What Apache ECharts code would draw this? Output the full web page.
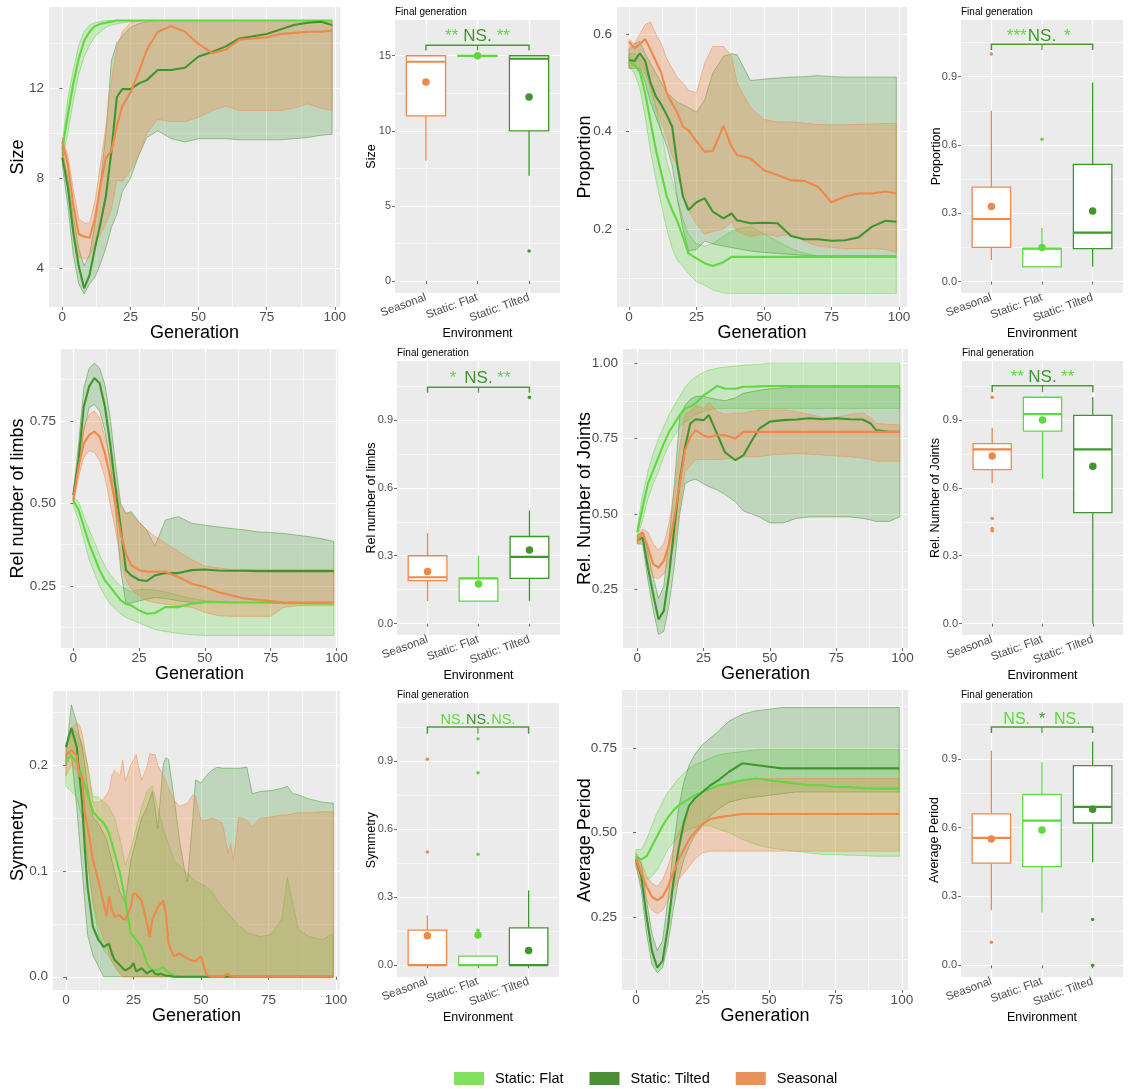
<!DOCTYPE html>
<html>
<head>
<meta charset="utf-8">
<script src="https://cdn.jsdelivr.net/npm/echarts@6/dist/echarts.min.js"></script>
<style>
html, body { margin: 0; padding: 0; background: #fff; }
#main { width: 1131px; height: 1089px; }
</style>
</head>
<body>
<div id="main"></div>
<script>
// ---- data ----
var envNames = ['Static: Flat', 'Static: Tilted', 'Seasonal'];
var boxCats = ['Seasonal', 'Static: Flat', 'Static: Tilted'];
var genTicks = [0, 25, 50, 75, 100];
var genMinor = [12.5, 37.5, 62.5, 87.5];

var genA = [0,2,4,6,8,10,12,14,16,18,20,22,25,28,31,35,40,45,50,55,60,65,70,75,80,85,90,95,99];

// Size
var sizeFlatMed = [9.3,10.8,12.2,13.3,14.1,14.5,14.75,14.85,14.9,14.95,15,15,15,15,15,15,15,15,15,15,15,15,15,15,15,15,15,15,15];
var sizeFlatLo = [8.9,10.0,11.4,12.6,13.4,13.9,14.3,14.5,14.7,14.8,14.85,14.9,14.95,14.98,15,15,15,15,15,15,15,15,15,15,15,15,15,15,15];
var sizeFlatHi = [9.6,11.5,12.8,13.9,14.5,14.8,14.9,14.95,15,15,15,15,15,15,15,15,15,15,15,15,15,15,15,15,15,15,15,15,15];
var sizeTiltMed = [8.9,7.6,5.6,4.1,3.1,3.7,4.9,6.0,7.2,9.2,11.6,11.95,11.95,12.2,12.35,12.8,12.8,12.9,13.4,13.6,13.85,14.2,14.3,14.4,14.6,14.8,14.9,14.95,14.8];
var sizeTiltLo = [8.5,6.8,4.6,3.3,2.85,3.3,3.6,4.2,4.9,5.8,6.4,7.4,8.0,9.0,9.8,10.1,9.75,9.6,9.75,9.75,9.75,9.7,9.7,9.7,9.7,9.75,9.8,9.9,9.95];
var sizeTiltHi = [9.3,8.0,6.3,4.9,4.1,4.6,6.0,7.8,10.0,13.2,14.0,14.3,14.7,14.85,14.95,15,15,15,15,15,15,15,15,15,15,15,15,15,15];
var sizeSeasMed = [9.6,8.6,6.8,5.5,5.4,5.35,6.2,7.7,8.9,9.2,10.3,11.2,11.8,12.7,13.7,14.5,14.75,14.5,13.95,13.55,13.7,14.15,14.2,14.25,14.4,14.45,14.5,14.5,14.55];
var sizeSeasLo = [9.0,7.9,5.6,4.5,4.4,4.5,5.1,5.5,6.0,6.6,7.9,7.85,8.35,9.0,10.0,10.6,10.5,10.5,10.7,11.0,11.2,11.0,11.0,11.0,11.0,11.1,11.3,11.1,11.0];
var sizeSeasHi = [9.8,9.0,7.5,6.2,6.0,6.0,7.0,8.6,10.3,12.3,13.8,14.5,14.9,15,15,15,15,15,15,15,15,15,15,15,15,15,15,15,15];

// Proportion
var propGen = [0,2,4,6,8,10,12,14,16,18,20,22,25,28,31,35,38,40,45,50,55,60,65,70,75,80,85,90,95,99];
var propFlatMed = [0.544,0.537,0.523,0.479,0.42,0.362,0.314,0.267,0.239,0.215,0.184,0.15,0.14,0.13,0.124,0.132,0.143,0.143,0.143,0.143,0.143,0.143,0.143,0.143,0.143,0.143,0.143,0.143,0.143,0.143];
var propFlatLo = [0.535,0.52,0.49,0.43,0.36,0.3,0.25,0.2,0.16,0.135,0.123,0.109,0.092,0.085,0.075,0.069,0.068,0.068,0.068,0.068,0.068,0.068,0.068,0.068,0.068,0.068,0.068,0.068,0.068,0.068];
var propFlatHi = [0.56,0.56,0.55,0.53,0.5,0.45,0.4,0.34,0.3,0.26,0.22,0.19,0.17,0.165,0.17,0.185,0.195,0.2,0.205,0.19,0.175,0.16,0.15,0.145,0.145,0.145,0.145,0.145,0.145,0.145];
var propTiltMed = [0.547,0.545,0.561,0.545,0.5,0.472,0.455,0.434,0.41,0.328,0.267,0.239,0.255,0.263,0.236,0.222,0.232,0.218,0.212,0.213,0.212,0.186,0.179,0.179,0.176,0.177,0.183,0.205,0.217,0.215];
var propTiltLo = [0.53,0.53,0.53,0.5,0.46,0.43,0.4,0.37,0.33,0.26,0.2,0.155,0.158,0.175,0.17,0.165,0.162,0.16,0.155,0.152,0.15,0.148,0.146,0.145,0.145,0.145,0.145,0.145,0.145,0.145];
var propTiltHi = [0.57,0.58,0.585,0.56,0.54,0.52,0.5,0.48,0.47,0.46,0.455,0.45,0.44,0.465,0.52,0.555,0.56,0.558,0.505,0.508,0.51,0.512,0.513,0.515,0.513,0.512,0.512,0.512,0.512,0.512];
var propSeasMed = [0.585,0.571,0.58,0.59,0.568,0.544,0.52,0.479,0.458,0.438,0.41,0.403,0.38,0.359,0.36,0.412,0.369,0.352,0.345,0.321,0.311,0.3,0.299,0.287,0.255,0.267,0.273,0.273,0.277,0.273];
var propSeasLo = [0.53,0.535,0.53,0.52,0.49,0.45,0.42,0.39,0.35,0.33,0.29,0.24,0.21,0.19,0.195,0.2,0.215,0.195,0.185,0.19,0.185,0.19,0.175,0.165,0.162,0.16,0.16,0.16,0.158,0.152];
var propSeasHi = [0.59,0.58,0.6,0.62,0.625,0.6,0.58,0.55,0.53,0.51,0.5,0.485,0.48,0.54,0.575,0.575,0.555,0.5,0.45,0.425,0.42,0.42,0.418,0.415,0.414,0.414,0.415,0.416,0.417,0.417];

// Rel number of limbs
var limbFlatMed = [0.51,0.48,0.43,0.379,0.338,0.298,0.267,0.247,0.227,0.207,0.196,0.191,0.176,0.166,0.168,0.186,0.186,0.196,0.201,0.201,0.2,0.2,0.2,0.199,0.198,0.198,0.197,0.197,0.196];
var limbFlatLo = [0.49,0.45,0.39,0.33,0.29,0.25,0.22,0.195,0.18,0.165,0.155,0.148,0.138,0.128,0.118,0.112,0.106,0.102,0.1,0.1,0.1,0.1,0.1,0.1,0.1,0.1,0.1,0.1,0.1];
var limbFlatHi = [0.52,0.505,0.46,0.42,0.385,0.345,0.31,0.285,0.265,0.25,0.24,0.232,0.24,0.24,0.238,0.232,0.222,0.212,0.205,0.203,0.2,0.2,0.2,0.2,0.2,0.2,0.2,0.2,0.2];
var limbTiltMed = [0.525,0.632,0.794,0.854,0.88,0.864,0.794,0.682,0.55,0.429,0.298,0.282,0.268,0.265,0.282,0.289,0.289,0.298,0.3,0.297,0.296,0.296,0.295,0.295,0.295,0.295,0.295,0.295,0.295];
var limbTiltLo = [0.52,0.6,0.72,0.79,0.8,0.78,0.72,0.62,0.48,0.3,0.196,0.198,0.205,0.21,0.215,0.212,0.205,0.2,0.2,0.2,0.2,0.2,0.2,0.2,0.2,0.2,0.2,0.2,0.2];
var limbTiltHi = [0.535,0.68,0.85,0.91,0.925,0.91,0.86,0.76,0.62,0.5,0.47,0.475,0.444,0.419,0.37,0.45,0.46,0.44,0.434,0.429,0.424,0.42,0.414,0.412,0.409,0.404,0.399,0.392,0.385];
var limbSeasMed = [0.51,0.611,0.682,0.707,0.718,0.702,0.652,0.581,0.5,0.409,0.348,0.313,0.298,0.293,0.294,0.293,0.277,0.257,0.247,0.232,0.222,0.212,0.208,0.204,0.2,0.2,0.2,0.2,0.2];
var limbSeasLo = [0.5,0.58,0.64,0.66,0.655,0.63,0.58,0.5,0.42,0.33,0.27,0.24,0.22,0.205,0.2,0.195,0.19,0.185,0.17,0.16,0.158,0.158,0.158,0.158,0.185,0.19,0.19,0.19,0.19];
var limbSeasHi = [0.52,0.64,0.73,0.77,0.78,0.76,0.7,0.64,0.57,0.49,0.47,0.47,0.44,0.42,0.4,0.38,0.355,0.33,0.31,0.305,0.3,0.3,0.3,0.3,0.3,0.3,0.3,0.3,0.3];

// Rel. Number of Joints
var jointGen = [0,2,4,6,8,10,12,14,16,18,20,22,25,27,30,33,37,40,43,46,50,55,60,65,70,75,80,85,88,90,95,99];
var jointFlatMed = [0.439,0.522,0.6,0.644,0.689,0.733,0.772,0.8,0.828,0.85,0.856,0.867,0.894,0.905,0.924,0.916,0.915,0.922,0.922,0.923,0.924,0.924,0.924,0.924,0.924,0.924,0.924,0.924,0.924,0.924,0.924,0.924];
var jointFlatLo = [0.42,0.48,0.55,0.6,0.64,0.69,0.73,0.76,0.79,0.805,0.815,0.83,0.84,0.845,0.85,0.85,0.85,0.85,0.85,0.85,0.85,0.85,0.85,0.85,0.85,0.85,0.85,0.85,0.85,0.85,0.85,0.85];
var jointFlatHi = [0.46,0.56,0.64,0.7,0.75,0.79,0.83,0.86,0.89,0.92,0.94,0.955,0.97,0.977,0.983,0.987,0.99,0.993,0.995,0.997,1,1,1,1,1,1,1,1,1,1,1,1];
var jointTiltMed = [0.411,0.422,0.322,0.233,0.15,0.178,0.3,0.456,0.611,0.722,0.8,0.814,0.811,0.828,0.767,0.705,0.678,0.694,0.74,0.783,0.806,0.811,0.813,0.817,0.814,0.817,0.814,0.813,0.8,0.778,0.772,0.772];
var jointTiltLo = [0.4,0.4,0.28,0.18,0.1,0.11,0.2,0.33,0.5,0.6,0.61,0.615,0.6,0.59,0.58,0.565,0.54,0.51,0.5,0.49,0.47,0.47,0.485,0.49,0.49,0.49,0.49,0.485,0.48,0.475,0.475,0.49];
var jointTiltHi = [0.43,0.44,0.37,0.29,0.22,0.26,0.42,0.6,0.82,0.86,0.88,0.89,0.89,0.885,0.88,0.875,0.885,0.9,0.905,0.91,0.915,0.918,0.92,0.92,0.92,0.92,0.92,0.92,0.92,0.92,0.92,0.92];
var jointSeasMed = [0.41,0.439,0.389,0.333,0.322,0.344,0.4,0.489,0.6,0.711,0.756,0.778,0.76,0.755,0.761,0.761,0.75,0.772,0.772,0.772,0.772,0.772,0.772,0.772,0.772,0.772,0.772,0.772,0.772,0.772,0.772,0.772];
var jointSeasLo = [0.4,0.41,0.33,0.29,0.285,0.3,0.34,0.4,0.52,0.64,0.66,0.68,0.68,0.68,0.68,0.682,0.685,0.69,0.69,0.69,0.695,0.698,0.7,0.698,0.695,0.692,0.69,0.685,0.68,0.675,0.675,0.675];
var jointSeasHi = [0.42,0.45,0.44,0.4,0.38,0.4,0.47,0.58,0.72,0.83,0.84,0.86,0.85,0.87,0.84,0.83,0.835,0.835,0.84,0.843,0.845,0.845,0.84,0.83,0.82,0.82,0.83,0.835,0.82,0.8,0.797,0.795];

// Symmetry
var symGen = [0,2,4,5,6,7,8, 10,12,14,15,16,17,18, 20,21,22,24,25,26,28, 30,31,32,33,34,35,36,37,38,
  40,42,44,45,46,47,48, 50,52,54,56,58, 60,61,62,64,67,69, 72,76,80,82,84,86, 90,95,99];
var symFlatMed = [0.206,0.208,0.203,0.197,0.189,0.181,0.173, 0.156,0.150,0.145,0.141,0.135,0.126,0.117,
  0.098,0.085,0.072,0.041,0.038,0.035,0.028, 0.013,0.009,0.006,0.006,0.006,0.008,0.009,0.006,0.004,
  0.001,0,0,0,0,0,0, 0,0,0,0,0, 0,0,0,0,0,0, 0,0,0,0,0,0, 0,0,0];
var symFlatLo = [0.18,0.175,0.17,0.16,0.15,0.13,0.11, 0.07,0.04,0.025,0.022,0.02,0.015,0.01,
  0.003,0,0,0,0,0,0, 0,0,0,0,0,0,0,0,0,
  0,0,0,0,0,0,0, 0,0,0,0,0, 0,0,0,0,0,0, 0,0,0,0,0,0, 0,0,0];
var symFlatHi = [0.215,0.235,0.23,0.225,0.22,0.21,0.2, 0.17,0.17,0.165,0.163,0.16,0.155,0.15,
  0.13,0.118,0.105,0.12,0.13,0.14,0.16, 0.175,0.178,0.18,0.17,0.16,0.15,0.14,0.133,0.125,
  0.11,0.105,0.1,0.098,0.095,0.092,0.09, 0.088,0.085,0.08,0.072,0.066, 0.06,0.057,0.054,0.048,0.042,0.04,
  0.038,0.04,0.055,0.094,0.07,0.045, 0.038,0.035,0.041];
var symTiltMed = [0.217,0.235,0.217,0.19,0.164,0.12,0.085, 0.047,0.035,0.028,0.03,0.031,0.022,0.016,
  0.011,0.008,0.006,0.009,0.013,0.005,0.008, 0.003,0.005,0.006,0.003,0.002,0.003,0.002,0.001,0.001,
  0,0,0,0,0,0,0, 0,0,0,0,0, 0,0,0,0,0,0, 0,0,0,0,0,0, 0,0,0];
var symTiltLo = [0.2,0.21,0.16,0.13,0.1,0.07,0.04, 0.02,0.01,0,0,0,0,0,
  0,0,0,0,0,0,0, 0,0,0,0,0,0,0,0,0,
  0,0,0,0,0,0,0, 0,0,0,0,0, 0,0,0,0,0,0, 0,0,0,0,0,0, 0,0,0];
var symTiltHi = [0.208,0.257,0.24,0.228,0.217,0.2,0.18, 0.151,0.145,0.135,0.13,0.12,0.11,0.1,
  0.08,0.075,0.07,0.11,0.12,0.13,0.15, 0.16,0.168,0.175,0.16,0.14,0.17,0.2,0.207,0.205,
  0.17,0.13,0.1,0.09,0.12,0.15,0.186, 0.183,0.19,0.195,0.198,0.197, 0.197,0.197,0.197,0.197,0.198,0.173,
  0.175,0.176,0.178,0.18,0.173,0.172, 0.168,0.165,0.164];
var symSeasMed = [0.209,0.214,0.209,0.19,0.189,0.154,0.142, 0.11,0.091,0.069,0.057,0.076,0.063,0.057,
  0.058,0.055,0.054,0.066,0.079,0.078,0.072, 0.05,0.038,0.054,0.06,0.066,0.069,0.072,0.06,0.031,
  0.019,0.022,0.019,0.017,0.016,0.015,0.015, 0.019,0.002,0,0,0, 0.003,0,0,0,0,0,
  0,0,0,0,0,0, 0,0,0];
var symSeasLo = [0.19,0.2,0.195,0.185,0.17,0.14,0.11, 0.07,0.05,0.035,0.03,0.02,0.015,0.01,
  0.003,0,0,0,0,0,0, 0,0,0,0,0,0,0,0,0,
  0,0,0,0,0,0,0, 0,0,0,0,0, 0,0,0,0,0,0, 0,0,0,0,0,0, 0,0,0];
var symSeasHi = [0.22,0.235,0.24,0.238,0.23,0.215,0.2, 0.165,0.165,0.168,0.172,0.176,0.19,0.195,
  0.19,0.205,0.185,0.2,0.205,0.21,0.186, 0.198,0.211,0.21,0.21,0.2,0.195,0.19,0.185,0.178,
  0.167,0.161,0.163,0.164,0.168,0.172,0.17, 0.148,0.148,0.15,0.148,0.145, 0.117,0.126,0.11,0.151,0.148,0.142,
  0.15,0.151,0.153,0.153,0.154,0.155, 0.155,0.156,0.156];

// Average Period
var periodFlatMed = [0.43,0.42,0.43,0.46,0.49,0.52,0.545,0.565,0.58,0.59,0.6,0.61,0.62,0.63,0.64,0.645,0.655,0.66,0.655,0.65,0.645,0.64,0.64,0.635,0.635,0.632,0.63,0.63,0.63];
var periodFlatLo = [0.41,0.38,0.36,0.37,0.39,0.42,0.45,0.47,0.49,0.5,0.51,0.515,0.52,0.52,0.51,0.5,0.48,0.465,0.455,0.45,0.445,0.44,0.435,0.435,0.433,0.432,0.43,0.43,0.43];
var periodFlatHi = [0.45,0.45,0.48,0.52,0.56,0.59,0.62,0.64,0.66,0.675,0.69,0.7,0.71,0.72,0.73,0.735,0.74,0.745,0.745,0.745,0.745,0.745,0.745,0.745,0.745,0.745,0.745,0.745,0.745];
var periodTiltMed = [0.42,0.37,0.25,0.15,0.1,0.12,0.22,0.35,0.45,0.53,0.58,0.6,0.62,0.64,0.655,0.68,0.705,0.7,0.695,0.69,0.69,0.69,0.69,0.69,0.69,0.69,0.69,0.69,0.69];
var periodTiltLo = [0.4,0.33,0.2,0.11,0.085,0.1,0.17,0.27,0.36,0.42,0.46,0.49,0.52,0.55,0.57,0.59,0.6,0.605,0.61,0.615,0.62,0.62,0.62,0.62,0.62,0.62,0.62,0.62,0.62];
var periodTiltHi = [0.43,0.41,0.3,0.2,0.15,0.18,0.3,0.45,0.57,0.65,0.7,0.73,0.76,0.78,0.8,0.83,0.85,0.86,0.865,0.87,0.87,0.87,0.87,0.87,0.87,0.87,0.87,0.87,0.87];
var periodSeasMed = [0.42,0.38,0.34,0.31,0.3,0.31,0.34,0.38,0.42,0.45,0.48,0.5,0.525,0.54,0.545,0.55,0.555,0.555,0.555,0.555,0.555,0.555,0.555,0.555,0.555,0.555,0.555,0.555,0.555];
var periodSeasLo = [0.4,0.35,0.3,0.27,0.26,0.27,0.3,0.33,0.36,0.38,0.4,0.42,0.44,0.445,0.445,0.445,0.445,0.445,0.445,0.445,0.445,0.445,0.445,0.445,0.445,0.445,0.445,0.445,0.445];
var periodSeasHi = [0.44,0.41,0.37,0.35,0.34,0.36,0.4,0.45,0.5,0.53,0.56,0.59,0.61,0.63,0.64,0.65,0.655,0.66,0.66,0.66,0.66,0.66,0.66,0.66,0.66,0.66,0.66,0.66,0.66];

// Final generation boxes: [whiskerLow, Q1, median, Q3, whiskerHigh] for Seasonal, Flat, Tilted
var sizeBox = [[8, 11, 14.6, 15, 15], [15, 15, 15, 15, 15], [7, 10, 14.8, 15, 15]];
var sizeMean = [13.25, 15, 12.25];
var sizeOut = [[3, 2]];
var propBox = [[0.095, 0.15, 0.275, 0.415, 0.75], [0.065, 0.065, 0.145, 0.145, 0.235], [0.065, 0.145, 0.215, 0.515, 0.875]];
var propMean = [0.33, 0.15, 0.31];
var propOut = [[1, 1.0], [2, 0.625]];
var limbBox = [[0.1, 0.19, 0.205, 0.3, 0.4], [0.1, 0.1, 0.2, 0.2, 0.3], [0.1, 0.2, 0.295, 0.385, 0.5]];
var limbMean = [0.23, 0.175, 0.325];
var limbOut = [[3, 1.0]];
var jointBox = [[0.62, 0.68, 0.77, 0.795, 0.865], [0.64, 0.85, 0.925, 1.0, 1.0], [0.0, 0.49, 0.77, 0.92, 1.0]];
var jointMean = [0.74, 0.9, 0.695];
var jointOut = [[1, 1.0], [1, 0.465], [1, 0.42], [1, 0.41]];
var symBox = [[0, 0, 0, 0.155, 0.22], [0, 0, 0, 0.04, 0.04], [0, 0, 0, 0.165, 0.33]];
var symMean = [0.13, 0.133, 0.065];
var symOut = [[1, 0.5], [1, 0.91], [2, 0.155], [2, 0.49], [2, 0.85], [2, 1.0]];
var periodBox = [[0.24, 0.445, 0.555, 0.66, 0.935], [0.23, 0.43, 0.63, 0.745, 0.885], [0.45, 0.62, 0.69, 0.87, 0.975]];
var periodMean = [0.55, 0.59, 0.68];
var periodOut = [[1, 0.1], [3, 0.2], [3, 0.0]];

// significance labels: [Seasonal vs Flat, Seasonal vs Tilted, Flat vs Tilted], bracket level and end ticks
var sizeSig = { labels: ['**', 'NS.', '**'], bar: 15.7, tick: 15.35 };
var propSig = { labels: ['***', 'NS.', '*'], bar: 1.042, tick: 1.017 };
var limbSig = { labels: ['*', 'NS.', '**'], bar: 1.044, tick: 1.02 };
var jointSig = { labels: ['**', 'NS.', '**'], bar: 1.051, tick: 1.022 };
var symSig = { labels: ['NS.', 'NS.', 'NS.'], bar: 1.052, tick: 1.022 };
var periodSig = { labels: ['NS.', '*', 'NS.'], bar: 1.038, tick: 1.012 };

// ---- styles / layout ----
var FONT = 'Liberation Sans, Arial, Helvetica, sans-serif';
var envColors = ['#5fd93f', '#3f962f', '#f0884a'];
var envFill = ['rgba(95,217,63,0.25)', 'rgba(63,150,47,0.25)', 'rgba(240,136,74,0.32)'];
var envEdge = ['rgba(95,217,63,0.7)', 'rgba(63,150,47,0.7)', 'rgba(240,136,74,0.7)'];
var legendColors = ['#84e060', '#4d8e39', '#e8925e'];
var boxColors = ['#f0884a', '#5fd93f', '#3f962f'];

var linePanels = [
  { yName: 'Size', gen: genA, med: [sizeFlatMed, sizeTiltMed, sizeSeasMed], lo: [sizeFlatLo, sizeTiltLo, sizeSeasLo], hi: [sizeFlatHi, sizeTiltHi, sizeSeasHi],
    yMajor: [4, 8, 12], yMinor: [6, 10, 14], dec: 0,
    left: 49, top: 7, width: 291, height: 300, x: [-4.9, 101.9], y: [2.27, 15.6], nameX: 18 },
  { yName: 'Proportion', gen: propGen, med: [propFlatMed, propTiltMed, propSeasMed], lo: [propFlatLo, propTiltLo, propSeasLo], hi: [propFlatHi, propTiltHi, propSeasHi],
    yMajor: [0.2, 0.4, 0.6], yMinor: [0.1, 0.3, 0.5], dec: 1,
    left: 617, top: 7, width: 290, height: 300, x: [-4.44, 102.96], y: [0.04, 0.656], nameX: 585 },
  { yName: 'Rel number of limbs', gen: genA, med: [limbFlatMed, limbTiltMed, limbSeasMed], lo: [limbFlatLo, limbTiltLo, limbSeasLo], hi: [limbFlatHi, limbTiltHi, limbSeasHi],
    yMajor: [0.25, 0.5, 0.75], yMinor: [0.125, 0.375, 0.625, 0.875], dec: 2,
    left: 61, top: 349, width: 277, height: 299, x: [-4.68, 100.6], y: [0.062, 0.968], nameX: 18 },
  { yName: 'Rel. Number of Joints', gen: jointGen, med: [jointFlatMed, jointTiltMed, jointSeasMed], lo: [jointFlatLo, jointTiltLo, jointSeasLo], hi: [jointFlatHi, jointTiltHi, jointSeasHi],
    yMajor: [0.25, 0.5, 0.75, 1.0], yMinor: [0.125, 0.375, 0.625, 0.875], dec: 2,
    left: 623, top: 349, width: 285, height: 299, x: [-5.4, 102.1], y: [0.055, 1.047], nameX: 585 },
  { yName: 'Symmetry', gen: symGen, med: [symFlatMed, symTiltMed, symSeasMed], lo: [symFlatLo, symTiltLo, symSeasLo], hi: [symFlatHi, symTiltHi, symSeasHi],
    yMajor: [0, 0.1, 0.2], yMinor: [0.05, 0.15, 0.25], dec: 1,
    left: 53, top: 691, width: 287, height: 299, x: [-4.8, 101.5], y: [-0.0125, 0.27], nameX: 18 },
  { yName: 'Average Period', gen: genA, med: [periodFlatMed, periodTiltMed, periodSeasMed], lo: [periodFlatLo, periodTiltLo, periodSeasLo], hi: [periodFlatHi, periodTiltHi, periodSeasHi],
    yMajor: [0.25, 0.5, 0.75], yMinor: [0.125, 0.375, 0.625, 0.875], dec: 2,
    left: 622, top: 690, width: 286, height: 300, x: [-5.26, 102.3], y: [0.034, 0.922], nameX: 585 }
];

var boxPanels = [
  { yName: 'Size', box: sizeBox, mean: sizeMean, out: sizeOut, sig: sizeSig, yMajor: [0, 5, 10, 15], yMinor: [2.5, 7.5, 12.5], dec: 0, sigSize: 17,
    left: 395, top: 20, width: 165, height: 273, y: [-0.8, 17.38], nameX: 372 },
  { yName: 'Proportion', box: propBox, mean: propMean, out: propOut, sig: propSig, yMajor: [0, 0.3, 0.6, 0.9], yMinor: [0.15, 0.45, 0.75, 1.05], dec: 1, sigSize: 17,
    left: 961, top: 20, width: 162, height: 273, y: [-0.05, 1.149], nameX: 937 },
  { yName: 'Rel number of limbs', box: limbBox, mean: limbMean, out: limbOut, sig: limbSig, yMajor: [0, 0.3, 0.6, 0.9], yMinor: [0.15, 0.45, 0.75, 1.05], dec: 1, sigSize: 17,
    left: 397, top: 361, width: 163, height: 274, y: [-0.05, 1.16], nameX: 372 },
  { yName: 'Rel. Number of Joints', box: jointBox, mean: jointMean, out: jointOut, sig: jointSig, yMajor: [0, 0.3, 0.6, 0.9], yMinor: [0.15, 0.45, 0.75, 1.05], dec: 1, sigSize: 17,
    left: 962, top: 361, width: 161, height: 274, y: [-0.05, 1.16], nameX: 936 },
  { yName: 'Symmetry', box: symBox, mean: symMean, out: symOut, sig: symSig, yMajor: [0, 0.3, 0.6, 0.9], yMinor: [0.15, 0.45, 0.75, 1.05], dec: 1, sigSize: 14.5,
    left: 397, top: 703, width: 162, height: 274, y: [-0.052, 1.158], nameX: 372 },
  { yName: 'Average Period', box: periodBox, mean: periodMean, out: periodOut, sig: periodSig, yMajor: [0, 0.3, 0.6, 0.9], yMinor: [0.15, 0.45, 0.75, 1.05], dec: 1, sigSize: 16,
    left: 961, top: 703, width: 162, height: 274, y: [-0.051, 1.143], nameX: 935 }
];

var grids = [], xAxes = [], yAxes = [], series = [], titles = [];

function makeAxes(list, gi, range, major, minor, cfg) {
  var base = { type: 'value', gridIndex: gi, min: range[0], max: range[1], axisLine: { show: false }, nameMoveOverlap: false };
  var prim = Object.assign({}, base, {
    axisTick: { show: true, customValues: major, length: 3, lineStyle: { color: '#444', width: 0.8 } },
    axisLabel: { customValues: major, formatter: cfg.formatter, color: '#4d4d4d', fontSize: cfg.labelSize,
      margin: cfg.margin, rotate: cfg.rotate || 0, fontFamily: FONT },
    splitLine: { show: true, lineStyle: { color: '#ffffff', width: 1.2 } },
    name: cfg.name, nameLocation: 'middle', nameGap: cfg.nameGap,
    nameTextStyle: { color: '#000', fontSize: cfg.nameSize, fontFamily: FONT }
  });
  var mino = Object.assign({}, base, {
    axisTick: { show: false, customValues: minor },
    axisLabel: { show: false, customValues: minor },
    splitLine: { show: minor.length > 0, lineStyle: { color: '#ffffff', width: 0.6 } }
  });
  list.push(prim, mino);
}

function fixed(dec) { return function (v) { return v.toFixed(dec); }; }

// line panels
linePanels.forEach(function (p, pi) {
  grids.push({ left: p.left, top: p.top, width: p.width, height: p.height, show: true,
    backgroundColor: '#ebebeb', borderWidth: 0, containLabel: false, outerBoundsMode: 'none' });
  makeAxes(xAxes, pi, p.x, genTicks, genMinor,
    { formatter: fixed(0), labelSize: 13.5, margin: 3, name: 'Generation', nameGap: 17, nameSize: 18 });
  makeAxes(yAxes, pi, p.y, p.yMajor, p.yMinor,
    { formatter: fixed(p.dec), labelSize: 13.5, margin: 5, name: p.yName, nameGap: p.left - p.nameX - 9, nameSize: 18 });
  var ai = pi * 2;
  for (var k = 0; k < 3; k++) {
    (function (k) {
      var gen = p.gen, lo = p.lo[k], hi = p.hi[k];
      series.push({
        type: 'custom', xAxisIndex: ai, yAxisIndex: ai, silent: true, z: 2,
        data: [[gen[0], lo[0]]], encode: { x: 0, y: 1 },
        renderItem: function (params, api) {
          var pts = [];
          for (var i = 0; i < gen.length; i++) pts.push(api.coord([gen[i], lo[i]]));
          for (var j = gen.length - 1; j >= 0; j--) pts.push(api.coord([gen[j], hi[j]]));
          return { type: 'polygon', shape: { points: pts },
            style: { fill: envFill[k], stroke: envEdge[k], lineWidth: 0.7 } };
        }
      });
    })(k);
  }
  for (var m = 0; m < 3; m++) {
    var med = p.med[m];
    series.push({
      type: 'line', name: envNames[m], xAxisIndex: ai, yAxisIndex: ai, z: 3, silent: true,
      showSymbol: false, symbol: 'none',
      data: p.gen.map(function (g, i) { return [g, med[i]]; }),
      lineStyle: { color: envColors[m], width: 2.1 }, itemStyle: { color: envColors[m] }
    });
  }
});

// box panels
boxPanels.forEach(function (b, bi) {
  var gi = linePanels.length + bi;
  var ai = gi * 2;
  grids.push({ left: b.left, top: b.top, width: b.width, height: b.height, show: true,
    backgroundColor: '#ebebeb', borderWidth: 0, containLabel: false, outerBoundsMode: 'none' });
  makeAxes(xAxes, gi, [0.4, 3.6], [1, 2, 3], [],
    { formatter: function (v) { return boxCats[Math.round(v) - 1]; }, labelSize: 11.5, margin: 4, rotate: 20,
      name: 'Environment', nameGap: 34, nameSize: 12.5 });
  makeAxes(yAxes, gi, b.y, b.yMajor, b.yMinor,
    { formatter: fixed(b.dec), labelSize: 11, margin: 4, name: b.yName, nameGap: b.left - b.nameX - 6, nameSize: 12.5 });
  titles.push({ text: 'Final generation', left: b.left, top: b.top - 13, padding: 0,
    textStyle: { fontSize: 10, fontWeight: 'normal', color: '#000', fontFamily: FONT } });

  series.push({
    type: 'custom', xAxisIndex: ai, yAxisIndex: ai, silent: true, z: 3,
    data: b.box.map(function (v, i) { return [i + 1].concat(v); }),
    encode: { x: 0, y: [1, 2, 3, 4, 5] },
    renderItem: function (params, api) {
      var x = api.value(0);
      var c = boxColors[params.dataIndex];
      var half = api.size([0.76, 0])[0] / 2;
      var pLo = api.coord([x, api.value(1)]), pQ1 = api.coord([x, api.value(2)]),
          pMd = api.coord([x, api.value(3)]), pQ3 = api.coord([x, api.value(4)]), pHi = api.coord([x, api.value(5)]);
      return { type: 'group', children: [
        { type: 'line', shape: { x1: pLo[0], y1: pLo[1], x2: pQ1[0], y2: pQ1[1] }, style: { stroke: c, lineWidth: 1.3 } },
        { type: 'line', shape: { x1: pQ3[0], y1: pQ3[1], x2: pHi[0], y2: pHi[1] }, style: { stroke: c, lineWidth: 1.3 } },
        { type: 'rect', shape: { x: pQ1[0] - half, y: pQ3[1], width: half * 2, height: Math.max(pQ1[1] - pQ3[1], 0.5) },
          style: { fill: '#ffffff', stroke: c, lineWidth: 1.3 } },
        { type: 'line', shape: { x1: pMd[0] - half, y1: pMd[1], x2: pMd[0] + half, y2: pMd[1] }, style: { stroke: c, lineWidth: 2.2 } }
      ] };
    }
  });
  series.push({
    type: 'scatter', xAxisIndex: ai, yAxisIndex: ai, silent: true, z: 4, symbolSize: 3.5,
    data: b.out.map(function (o) { return [o[0], o[1]]; }),
    itemStyle: { opacity: 1, color: function (p) { return boxColors[p.value[0] - 1]; } }
  });
  series.push({
    type: 'scatter', xAxisIndex: ai, yAxisIndex: ai, silent: true, z: 5, symbolSize: 7.5,
    data: b.mean.map(function (v, i) { return [i + 1, v]; }),
    itemStyle: { opacity: 1, color: function (p) { return boxColors[p.dataIndex]; } }
  });
  series.push({
    type: 'custom', xAxisIndex: ai, yAxisIndex: ai, silent: true, z: 6,
    data: [[2, b.sig.bar]], encode: { x: 0, y: 1 },
    renderItem: function (params, api) {
      var s = b.sig;
      var l1 = api.coord([1, s.tick]), l2 = api.coord([1, s.bar]), r2 = api.coord([3, s.bar]), r1 = api.coord([3, s.tick]);
      var m2 = api.coord([2, s.bar]), m1 = api.coord([2, s.tick]);
      var tx = [api.coord([1.5, s.bar]), m2, api.coord([2.5, s.bar])];
      var tc = [envColors[0], envColors[1], envColors[0]];
      var kids = [
        { type: 'polyline', shape: { points: [l1, l2, r2, r1] }, style: { stroke: '#4c9a3a', lineWidth: 1.5, fill: null } },
        { type: 'line', shape: { x1: m2[0], y1: m2[1], x2: m1[0], y2: m1[1] }, style: { stroke: '#4c9a3a', lineWidth: 1.2 } }
      ];
      for (var i = 0; i < 3; i++) {
        kids.push({ type: 'text', style: { text: s.labels[i], x: tx[i][0], y: tx[i][1], align: 'center', verticalAlign: 'bottom',
          fill: tc[i], fontSize: b.sigSize, fontFamily: FONT } });
      }
      return { type: 'group', children: kids };
    }
  });
});

var option = {
  animation: false,
  backgroundColor: '#ffffff',
  textStyle: { fontFamily: FONT },
  title: titles,
  legend: {
    left: 449, top: 1066, itemWidth: 30, itemHeight: 13, itemGap: 26, selectedMode: false,
    textStyle: { fontSize: 14.5, color: '#000', fontFamily: FONT, padding: [0, 0, 0, 6] },
    data: envNames.map(function (n, i) { return { name: n, icon: 'rect', itemStyle: { color: legendColors[i] } }; })
  },
  grid: grids,
  xAxis: xAxes,
  yAxis: yAxes,
  series: series
};

var chart = echarts.init(document.getElementById('main'));
chart.setOption(option);
</script>
</body>
</html>
